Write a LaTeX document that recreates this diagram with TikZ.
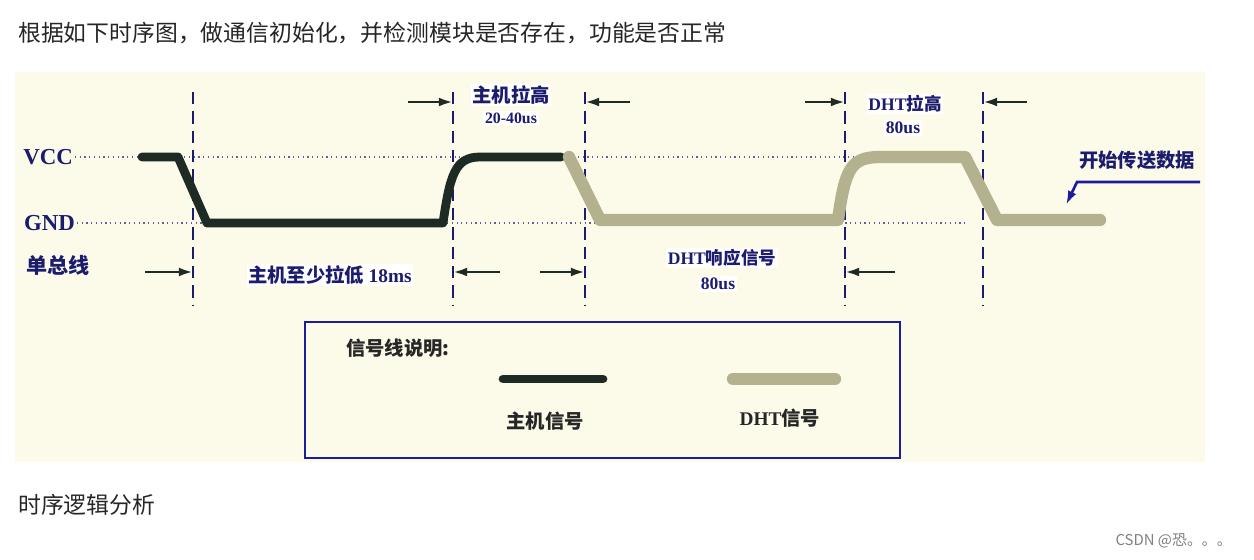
\documentclass[tikz,border=0pt]{standalone}
\usepackage{fontspec}
\setmainfont{Liberation Serif}
\newfontfamily\cjk{Noto Sans CJK SC}
\usetikzlibrary{arrows.meta}
\definecolor{bgc}{HTML}{FCFBEA}
\definecolor{navy}{HTML}{1C1C6E}
\definecolor{dht}{HTML}{B3B18E}
\definecolor{host}{HTML}{1E2A24}
\definecolor{bluebox}{HTML}{1C1C9C}
\begin{document}
\begin{tikzpicture}[x=0.02cm,y=-0.02cm,
  lbl/.style={font=\cjk\bfseries\fontsize{11}{13}\selectfont,text=navy,inner sep=1pt},
  lblw/.style={lbl,fill=white},
  dim/.style={host,line width=1.5pt,-{Latex[length=8pt,width=5pt]}},
  vdash/.style={navy,dash pattern=on 7pt off 4pt,line width=0.6pt},
  hdot/.style={navy!70,dotted,line width=0.7pt},
  hostsig/.style={host,line width=5pt,line cap=round,line join=round},
  dhtsig/.style={dht,line width=7pt,line cap=round,line join=round}]
\useasboundingbox (0,0) rectangle (1254,560);
\fill[white] (0,0) rectangle (1254,560);
\node[anchor=west,font=\cjk\fontsize{13}{15}\selectfont,text=black!85] (title) at (12,33) {根据如下时序图，做通信初始化，并检测模块是否存在，功能是否正常};
\fill[bgc] (15,72) rectangle (1205,462);
% labels
\node[lbl,font=\bfseries\fontsize{13}{15}\selectfont,anchor=east] (vcc) at (75,157) {VCC};
\node[lbl,font=\bfseries\fontsize{13}{15}\selectfont,anchor=east] (gnd) at (77,223) {GND};
\node[lbl,anchor=west,font=\cjk\bfseries\fontsize{12}{14}\selectfont] (bus) at (24,265) {单总线};
\draw[hdot] (vcc.east) -- (965,157);
\draw[hdot] (gnd.east) -- (965,223);
% verticals
\foreach \x/\n in {193/a,453/b,585/c,845/d,983/e}{
  \coordinate (\n1) at (\x,92); \coordinate (\n2) at (\x,305);
  \draw[vdash] (\n1) -- (\n2);}
% label boxes
\node[lblw] (t1) at (511,95) {主机拉高};
\node[lblw,font=\bfseries\fontsize{9}{11}\selectfont] (t2) at (511,118) {20-40us};
\node[lblw,font=\bfseries\fontsize{10}{12}\selectfont] (t3) at (905,104) {DHT\cjk 拉高};
\node[lblw,font=\bfseries\fontsize{10}{12}\selectfont] (t4) at (903,128) {80us};
\node[lblw] (t5) at (330,275) {主机至少拉低\ \rmfamily 18ms};
\node[lblw,font=\bfseries\fontsize{10}{12}\selectfont] (t6) at (722,258) {DHT\cjk 响应信号};
\node[lblw,font=\bfseries\fontsize{10}{12}\selectfont] (t7) at (718,284) {80us};
\node[lbl] (t8) at (1137,160) {开始传送数据};
% signals
\draw[hostsig] (142,157) -- (178,157) -- (207,223) -- (443,223) .. controls (450,175) and (455,157) .. (480,157) -- (561,157);
\draw[dhtsig] (569,157) -- (600,220) -- (838,220) .. controls (845,170) and (850,157) .. (880,157) -- (965,157) -- (997,220) -- (1100,220);
% dimension arrows
\coordinate (p1) at (408,102); \coordinate (p2) at (630,102);
\coordinate (p3) at (805,102); \coordinate (p4) at (1027,102);
\coordinate (q1) at (145,272); \coordinate (q2) at (500,272);
\coordinate (q3) at (540,272); \coordinate (q4) at (895,272);
\draw[dim] (p1) -- (b1|-p1);
\draw[dim] (p2) -- (c1|-p2);
\draw[dim] (p3) -- (d1|-p3);
\draw[dim] (p4) -- (e1|-p4);
\draw[dim] (q1) -- (a1|-q1);
\draw[dim] (q2) -- (b1|-q2);
\draw[dim] (q3) -- (c1|-q3);
\draw[dim] (q4) -- (d1|-q4);
% blue arrow
\coordinate (s1) at (1200,182);
\coordinate (s2) at (1077,182);
\coordinate (s3) at (1066,205);
\draw[bluebox,line width=1.5pt,-{Latex[length=8pt,width=5pt]}] (s1) -- (s2) -- (s3);
% legend
\draw[bluebox,line width=1.5pt] (305,322) rectangle (900,458);
\node[lbl,text=black!85] (lt) at (398,348) {信号线说明:};
\coordinate (h1) at (503,379); \coordinate (h2) at (603,379);
\coordinate (d1x) at (733,379); \coordinate (d2x) at (835,379);
\draw[hostsig] (h1) -- (h2);
\draw[dhtsig] (d1x) -- (d2x);
\node[lbl,text=black!85] (lh) at (545,421) {主机信号};
\node[lbl,text=black!85,font=\bfseries\fontsize{11}{13}\selectfont] (ld) at (780,418) {DHT\cjk 信号};
\node[anchor=west,font=\cjk\fontsize{13}{15}\selectfont,text=black!85] (sub) at (12,505) {时序逻辑分析};
\node[anchor=east,font=\cjk\fontsize{8.5}{10}\selectfont,text=black!50] (csdn) at (1238,541) {CSDN @恐。。。};
\end{tikzpicture}
\end{document}
